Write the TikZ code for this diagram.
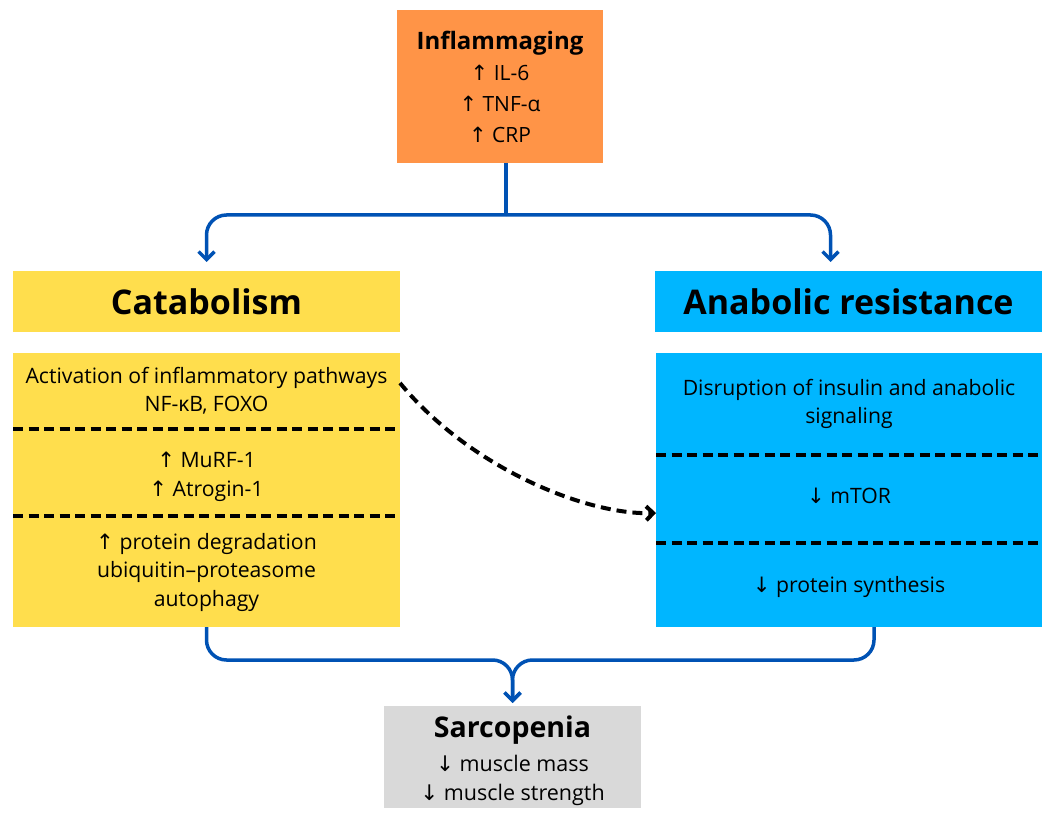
\documentclass[tikz,border=0pt]{standalone}
\usepackage{fontspec}
\setmainfont{Open Sans}
\newfontfamily\arrowfont{DejaVu Sans}
\usetikzlibrary{arrows.meta,calc}
\definecolor{orangeC}{HTML}{FF9447}
\definecolor{yellowC}{HTML}{FFDE4D}
\definecolor{cyanC}{HTML}{00B6FF}
\definecolor{blueC}{HTML}{0052B4}
\definecolor{grayC}{HTML}{D9D9D9}
\newcommand{\uparr}{{\arrowfont ↑}}
\newcommand{\dnarr}{{\arrowfont ↓}}
\begin{document}
\begin{tikzpicture}[x=1pt,y=-1pt,
  panel/.style={inner sep=0pt, outer sep=0pt},
  bodytext/.style={align=center, font=\fontsize{21.2}{28.5}\selectfont, inner sep=0pt},
  headtext/.style={font=\fontsize{34}{40}\selectfont\bfseries},
  flow/.style={draw=blueC, line width=3.5pt, rounded corners=20pt, -{Straight Barb[length=8pt,width=16pt]}},
  trunk/.style={draw=blueC, line width=3.5pt},
  divider/.style={line width=4pt, dash pattern=on 10pt off 5.5pt},
  link/.style={line width=4pt, dash pattern=on 10pt off 6pt, -{Straight Barb[length=7pt,width=14pt]}}]
\useasboundingbox (0,0) rectangle (1055,818);

% Inflammaging
\node[panel, fill=orangeC, minimum width=206pt, minimum height=153pt, align=center,
      font=\fontsize{21}{31}\selectfont] (infl) at (500,86.5)
  {{\fontsize{24}{31}\selectfont\bfseries Inflammaging}\\ \uparr\ IL-6\\ \uparr\ TNF-α\\ \uparr\ CRP};

% headers
\node[panel, fill=yellowC, minimum width=387pt, minimum height=61pt, headtext] (cat) at (206.5,301.5) {Catabolism};
\node[panel, fill=cyanC, minimum width=387pt, minimum height=61pt, headtext] (ana) at (848.5,301.5) {Anabolic resistance};

% bodies
\node[panel, fill=yellowC, minimum width=387pt, minimum height=274pt] (catbody) at (206.5,490) {};
\node[panel, fill=cyanC, minimum width=386pt, minimum height=274pt] (anabody) at (849,490) {};

\draw[divider] (catbody.west |- 0,429) -- ([xshift=-3pt]catbody.east |- 0,429);
\draw[divider] (catbody.west |- 0,516) -- ([xshift=-3pt]catbody.east |- 0,516);
\draw[divider] (anabody.west |- 0,455) -- ([xshift=-4pt]anabody.east |- 0,455);
\draw[divider] (anabody.west |- 0,543) -- (anabody.east |- 0,543);

\node[bodytext] (c1) at (206.5,391) {Activation of inflammatory pathways\\ NF-κB, FOXO};
\node[bodytext] (c2) at (206.5,477) {\uparr\ MuRF-1\\ \uparr\ Atrogin-1};
\node[bodytext] (c3) at (206.5,572) {\uparr\ protein degradation\\ ubiquitin–proteasome\\ autophagy};

\node[bodytext] (a1) at (849,404) {Disruption of insulin and anabolic\\ signaling};
\node[bodytext] (a2) at (849,496) {\dnarr\ mTOR};
\node[bodytext] (a3) at (849,587) {\dnarr\ protein synthesis};

% Sarcopenia
\node[panel, fill=grayC, minimum width=257pt, minimum height=102pt] (sarc) at (512.5,757) {};
\node[align=center, inner sep=0pt, font=\fontsize{21.5}{29}\selectfont] (sarctext) at (512.5,761)
  {{\fontsize{28.5}{29}\selectfont\bfseries Sarcopenia}\\[5pt] \dnarr\ muscle mass\\ \dnarr\ muscle strength};

% connectors
\coordinate (j) at ([xshift=6pt]infl.south |- 0,215);
\draw[trunk] ([xshift=6pt]infl.south) -- (j);
\draw[flow, shorten >=9pt] (j) -| (cat.north);
\draw[flow, shorten >=9pt] (j) -| ([xshift=-18pt]ana.north);

\coordinate (m) at (sarc.north |- 0,660);
\draw[flow, shorten >=3pt] (catbody.south) |- (m) -- (sarc.north);
\draw[flow, shorten >=3pt] ([xshift=25pt]anabody.south) |- (m) -- (sarc.north);

\draw[link] ($(catbody.north east)+(0,30)$) .. controls +(70,85) and +(-70,2) .. ($(anabody.west)+(0,23)$);
\end{tikzpicture}
\end{document}
